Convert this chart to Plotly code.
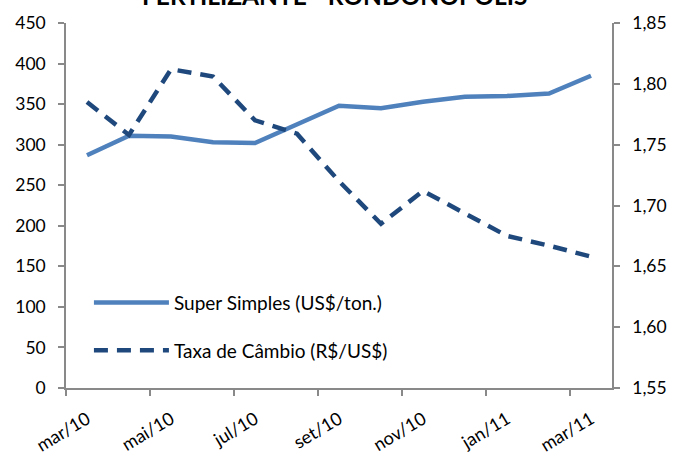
import plotly.graph_objects as go

months = ["mar/10", "abr/10", "mai/10", "jun/10", "jul/10", "ago/10", "set/10",
          "out/10", "nov/10", "dez/10", "jan/11", "fev/11", "mar/11"]
super_simples = [287, 311, 310, 303, 302, 325, 348, 345, 353, 359, 360, 363, 385]
taxa_cambio = [1.785, 1.758, 1.812, 1.806, 1.770, 1.759, 1.720, 1.685, 1.712, 1.693, 1.675, 1.667, 1.658]

left_ticks = list(range(0, 451, 50))
right_ticks = [1.55, 1.60, 1.65, 1.70, 1.75, 1.80, 1.85]

FONT = "Lato"
AXIS_COLOR = "#898989"
TICK_FONT = dict(family=FONT, size=17.5, color="#000000")

fig = go.Figure()
fig.add_trace(go.Scatter(
    x=months, y=super_simples, name="Super Simples (US$/ton.)",
    mode="lines", line=dict(color="#4F81BD", width=4.5),
    legendgroup="a", yaxis="y"))
fig.add_trace(go.Scatter(
    x=months, y=taxa_cambio, name="Taxa de Câmbio (R$/US$)",
    mode="lines", line=dict(color="#1F497D", width=4.5, dash="14px,9px"),
    legendgroup="b", yaxis="y2"))

fig.update_layout(
    width=674, height=459,
    margin=dict(l=66, r=62, t=23, b=71, autoexpand=False),
    paper_bgcolor="white", plot_bgcolor="white",
    separators=",.",
    font=dict(family=FONT, size=19, color="#000000"),
    annotations=[dict(text="<b>FERTILIZANTE - RONDONÓPOLIS</b>", xref="paper", yref="paper",
                      x=0.492, y=1.074, xanchor="center", yanchor="middle", showarrow=False,
                      font=dict(size=24.5, family=FONT))],
    xaxis=dict(type="category", showline=True, linecolor=AXIS_COLOR, linewidth=1.5,
               showgrid=False, zeroline=False, tickson="boundaries", dtick=2,
               ticks="outside", ticklen=6, tickcolor=AXIS_COLOR, tickwidth=1.5,
               tickangle=-31, ticklabelstandoff=12, range=[-0.5, 12.5], automargin=False,
               tickfont=dict(family=FONT, size=18, color="#000000")),
    yaxis=dict(range=[0, 450], tickvals=left_ticks, showline=True, linecolor=AXIS_COLOR,
               linewidth=1.5, showgrid=False, zeroline=False, ticks="outside", ticklen=6,
               tickcolor=AXIS_COLOR, tickwidth=1.5, ticklabelstandoff=9, automargin=False,
               tickfont=TICK_FONT),
    yaxis2=dict(range=[1.55, 1.85], tickvals=right_ticks, tickformat=".2f",
                overlaying="y", side="right", showline=True, linecolor=AXIS_COLOR,
                linewidth=1.5, showgrid=False, zeroline=False, ticks="outside", ticklen=6,
                tickcolor=AXIS_COLOR, tickwidth=1.5, ticklabelstandoff=9, automargin=False,
                tickfont=TICK_FONT),
    legend=dict(x=0.042, y=0.168, xanchor="left", yanchor="middle",
                bgcolor="rgba(0,0,0,0)", font=dict(size=19, family=FONT),
                itemwidth=75, tracegroupgap=20),
    showlegend=True,
)

fig.write_html("out.html", config={"displayModeBar": False},
               post_script="document.body.style.margin='0px';")
